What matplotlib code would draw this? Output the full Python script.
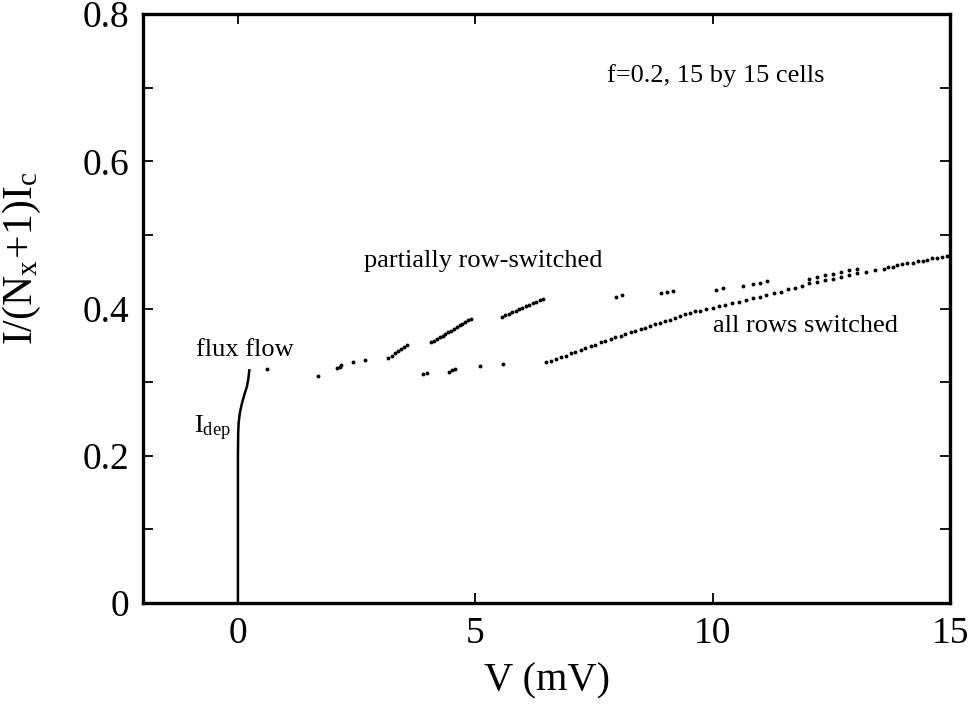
import numpy as np
import matplotlib
matplotlib.use("Agg")
import matplotlib.pyplot as plt
from matplotlib.ticker import MultipleLocator, FuncFormatter

plt.rcParams['font.family'] = ['Liberation Serif', 'DejaVu Serif']
plt.rcParams['mathtext.fontset'] = 'custom'
plt.rcParams['mathtext.rm'] = 'Liberation Serif'
plt.rcParams['mathtext.it'] = 'Liberation Serif:italic'

# depinning branch (solid line)
v_dep = [0.0, 0.0, 0.0, 0.005, 0.015, 0.04, 0.08, 0.13, 0.19, 0.22, 0.24]
i_dep = [0.0, 0.10, 0.20, 0.230, 0.245, 0.258, 0.270, 0.282, 0.294, 0.305, 0.316]

# partially row-switched states
v_part = [0.61, 1.69, 2.09, 2.14, 2.18, 2.43, 2.67,
          3.17, 3.24, 3.30, 3.37, 3.43, 3.50, 3.56,
          4.07, 4.13, 4.19, 4.25, 4.31, 4.37, 4.43, 4.49, 4.55, 4.61, 4.67,
          4.73, 4.79, 4.85, 4.91,
          5.56, 5.63, 5.70, 5.78, 5.85, 5.92, 5.99, 6.06, 6.14, 6.21, 6.28,
          6.36, 6.43,
          7.96, 8.08, 8.92, 9.04, 9.17,
          10.08, 10.21, 10.63, 10.84, 10.99, 11.15,
          12.03, 12.19, 12.36, 12.53, 12.71, 12.88, 13.05]
i_part = [0.318, 0.308, 0.319, 0.321, 0.323, 0.327, 0.330,
          0.333, 0.336, 0.339, 0.342, 0.345, 0.348, 0.351,
          0.354, 0.356, 0.359, 0.361, 0.363, 0.366, 0.368, 0.370, 0.372, 0.375, 0.377,
          0.379, 0.382, 0.384, 0.386,
          0.389, 0.391, 0.393, 0.395, 0.397, 0.399, 0.401, 0.403, 0.405, 0.407, 0.409,
          0.411, 0.413,
          0.416, 0.4185, 0.421, 0.422, 0.424,
          0.425, 0.428, 0.431, 0.4335, 0.435, 0.437,
          0.440, 0.443, 0.445, 0.447, 0.450, 0.452, 0.454]

# lower scattered points
v_low = [3.90, 3.99, 4.44, 4.51, 4.58, 5.09, 5.58]
i_low = [0.311, 0.313, 0.314, 0.316, 0.318, 0.322, 0.324]

# all rows switched
v_all = [6.48, 6.59, 6.69, 6.80, 6.90, 7.01, 7.11, 7.22, 7.32, 7.43, 7.53,
         7.64, 7.74, 7.85, 7.95, 8.06, 8.16, 8.27, 8.37, 8.48, 8.58, 8.69,
         8.79, 8.90, 9.00, 9.11, 9.21, 9.32, 9.42, 9.53, 9.63,
         9.73, 9.87, 10.00, 10.14, 10.27, 10.41, 10.55, 10.70, 10.84, 10.99,
         11.13, 11.29, 11.44, 11.59, 11.74, 11.88, 12.02, 12.19, 12.36, 12.53,
         12.70, 12.88, 13.05, 13.23, 13.41, 13.60, 13.69, 13.79, 13.89, 13.99,
         14.10, 14.21, 14.32, 14.42, 14.51, 14.62, 14.72, 14.83, 14.94, 14.99]
i_all = [0.327, 0.329, 0.331, 0.334, 0.336, 0.339, 0.341, 0.344, 0.346, 0.349, 0.351,
         0.354, 0.356, 0.359, 0.361, 0.363, 0.365, 0.368, 0.370, 0.372, 0.374, 0.376,
         0.379, 0.381, 0.383, 0.385, 0.387, 0.390, 0.392, 0.394, 0.396,
         0.397, 0.399, 0.401, 0.403, 0.405, 0.407, 0.409, 0.412, 0.414, 0.416,
         0.419, 0.421, 0.423, 0.426, 0.428, 0.430, 0.434, 0.436, 0.439, 0.440,
         0.443, 0.446, 0.448, 0.450, 0.452, 0.454, 0.456, 0.457, 0.459, 0.460,
         0.462, 0.462, 0.464, 0.465, 0.466, 0.468, 0.469, 0.470, 0.471, 0.473]

fig = plt.figure(figsize=(9.74, 7.19), dpi=100)
ax = fig.add_axes([0.1468, 0.1613, 0.8286, 0.8192])

ax.plot(v_dep, i_dep, color='black', lw=1.8)
for v, i in [(v_part, i_part), (v_low, i_low), (v_all, i_all)]:
    ax.plot(v, i, 'o', color='black', ms=2.8, mec='none')

ax.set_xlim(-2, 15)
ax.set_ylim(0, 0.8)
ax.xaxis.set_major_locator(MultipleLocator(5))
ax.yaxis.set_major_locator(MultipleLocator(0.2))
ax.yaxis.set_minor_locator(MultipleLocator(0.1))
ax.yaxis.set_major_formatter(FuncFormatter(lambda y, p: '%g' % round(y, 2)))
ax.tick_params(which='both', direction='in', top=True, right=True,
               length=7, width=1.3, labelsize=27, pad=10)

for s in ax.spines.values():
    s.set_linewidth(2.4)

ax.set_xlabel('V (mV)', fontsize=29, labelpad=8)
ax.set_ylabel(r'$\mathregular{I/(N_x\!+\!1)I_c}$', fontsize=30)
ax.yaxis.set_label_coords(-0.124, 0.585)

ax.text(7.77, 0.708, 'f=0.2, 15 by 15 cells', fontsize=19)
ax.text(2.65, 0.457, 'partially row-switched', fontsize=19)
ax.text(-0.88, 0.336, 'flux flow', fontsize=19)
ax.text(10.0, 0.368, 'all rows switched', fontsize=19)
ax.text(-0.92, 0.231, r'$\mathregular{I_{dep}}$', fontsize=19)

fig.savefig('out.png', dpi=100)
